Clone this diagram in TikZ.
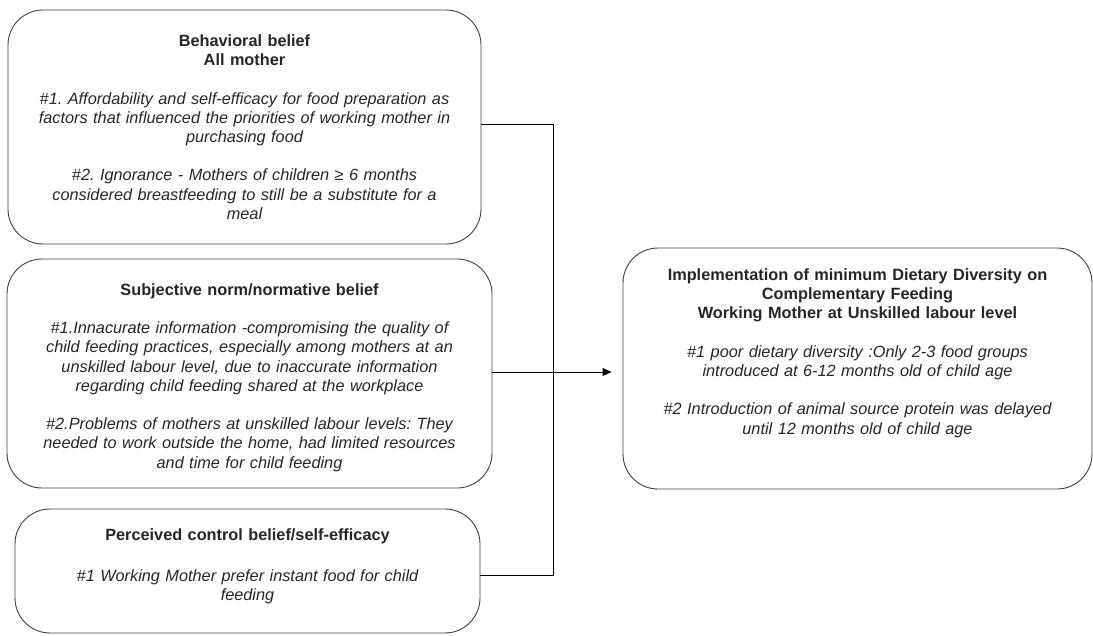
\documentclass[tikz,border=0pt]{standalone}
\usepackage{fontspec}
\setmainfont{Liberation Sans}
\usetikzlibrary{arrows.meta,positioning}
\frenchspacing

\begin{document}
\begin{tikzpicture}[x=1pt, y=-1pt,
    belief/.style={draw=black!75, line width=0.9pt, rounded corners=35pt, inner sep=0pt},
    note/.style={align=center, inner sep=0pt, text width=465pt, text=black!85, font=\fontsize{16.3}{19.2}\selectfont},
    link/.style={line width=0.9pt, black}]
    \useasboundingbox (0,0) rectangle (1093,635);
    \node[belief, minimum width=473pt, minimum height=234pt] (behav) at (244.5,127) {};
    \node[belief, minimum width=485pt, minimum height=229pt] (norm) at (249.5,373.5) {};
    \node[belief, minimum width=465pt, minimum height=124pt] (ctrl) at (247.5,571) {};
    \node[belief, minimum width=469pt, minimum height=241pt] (mdd) at (857.5,368.5) {};

    \node[note] (behavtxt) at (behav.center) {\bfseries Behavioral belief\\ All mother\\[19.2pt]
        \mdseries\itshape \#1. Affordability and self-efficacy for food preparation as\\
        factors that influenced the priorities of working mother in\\ purchasing food\\[19.2pt]
        \#2. Ignorance - Mothers of children ≥ 6 months\\
        considered breastfeeding to still be a substitute for a\\ meal};
    \node[note, yshift=-4pt] (normtxt) at (norm.center) {\bfseries Subjective norm/normative belief\\[19.2pt]
        \mdseries\itshape \#1.Innacurate information -compromising the quality of\\
        child feeding practices, especially among mothers at an\\
        unskilled labour level, due to inaccurate information\\
        regarding child feeding shared at the workplace\\[19.2pt]
        \#2.Problems of mothers at unskilled labour levels: They\\
        needed to work outside the home, had limited resources\\ and time for child feeding};
    \node[note, below=20pt of ctrl.north] (ctrltxt) {\bfseries Perceived control belief/self-efficacy\\[22pt]
        \mdseries\itshape \#1 Working Mother prefer instant food for child\\ feeding};
    \node[note, below=21pt of mdd.north] (mddtxt) {\bfseries Implementation of minimum Dietary Diversity on\\
        Complementary Feeding\\ Working Mother at Unskilled labour level\\[19.2pt]
        \mdseries\itshape \#1 poor dietary diversity :Only 2-3 food groups\\
        introduced at 6-12 months old of child age\\[19.2pt]
        \#2 Introduction of animal source protein was delayed\\ until 12 months old of child age};

    \coordinate (jn) at (553,0);
    \draw[link] ([yshift=3pt]behav.east) -- ([yshift=3pt]behav.east -| jn)
        -- ([yshift=-4pt]ctrl.east -| jn) -- ([yshift=-4pt]ctrl.east);
    \draw[link, -{Triangle[length=9pt,width=8pt]}, shorten >=11pt] ([yshift=1.5pt]norm.east) -- ([yshift=1.5pt]norm.east -| mdd.west);
\end{tikzpicture}
\end{document}
